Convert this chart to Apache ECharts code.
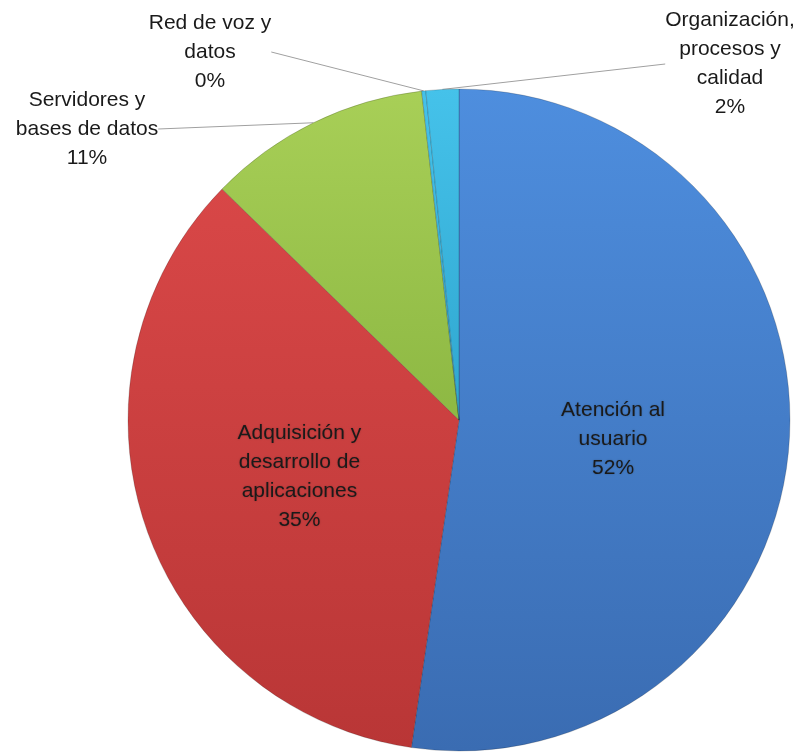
<!DOCTYPE html>
<html><head><meta charset="utf-8">
<script src="https://cdn.jsdelivr.net/npm/echarts@6/dist/echarts.min.js"></script>
<style>html,body{margin:0;padding:0;background:#fff}#c{width:806px;height:755px}</style>
</head><body><div id="c"></div>
<script>
const categories = ["Atención al\nusuario", "Adquisición y\ndesarrollo de\naplicaciones", "Servidores y\nbases de datos", "Red de voz y\ndatos", "Organización,\nprocesos y\ncalidad"];
const values = [52.3, 35.0, 10.9, 0.2, 1.6];
const colorsTop = ["#4E8EDE", "#D84747", "#A8CF57", "#45C2EA"];
const colorsBot = ["#3A6CB2", "#B93636", "#8DB843", "#2FA6CF"];
const colorIdx = [0, 1, 2, 3, 3];
// label block centers for outside labels (index -> [x,y])
const outsideLabelPos = {2: [87, 129], 3: [210, 52], 4: [730, 64]};
const innerShift = {0: [-14, 7], 1: [0, 3]};

function grad(i){
  return new echarts.graphic.LinearGradient(0,0,0,1,[{offset:0,color:colorsTop[colorIdx[i]]},{offset:1,color:colorsBot[colorIdx[i]]}]);
}
const total = values.reduce((a,b)=>a+b,0);
const data = categories.map((n,i)=>{
  const d = {name:n, value:values[i], itemStyle:{color:grad(i)}};
  if (outsideLabelPos[i]) {
    d.label = {position:'outside', show:true};
    d.labelLine = {show:true, length:1, length2:0, smooth:false, lineStyle:{color:'#a0a0a0', width:1}};
  } else {
    d.label = {position:'inner', show:true, textShadowColor:'rgba(0,0,0,0.25)', textShadowBlur:2};
    d.labelLine = {show:false};
  }
  return d;
});
const chart = echarts.init(document.getElementById('c'));
chart.setOption({
  animation:false,
  series:[{
    type:'pie',
    center:[459,420],
    radius:[0,331],
    startAngle:90,
    clockwise:true,
    avoidLabelOverlap:false,
    itemStyle:{borderColor:'rgba(0,0,0,0.18)', borderWidth:1},
    label:{
      color:'#1a1a1a', fontFamily:'Liberation Sans', fontSize:21, lineHeight:29, align:'center',
      formatter:(p)=> p.name + '\n' + Math.round(p.value/total*100) + '%'
    },
    labelLayout:(params)=>{
      const pos = outsideLabelPos[params.dataIndex];
      if (pos) return {x:pos[0], y:pos[1], align:'center', verticalAlign:'middle'};
      const s = innerShift[params.dataIndex];
      if (s) return {dx:s[0], dy:s[1]};
      return {};
    },
    data:data
  }]
});
</script></body></html>
